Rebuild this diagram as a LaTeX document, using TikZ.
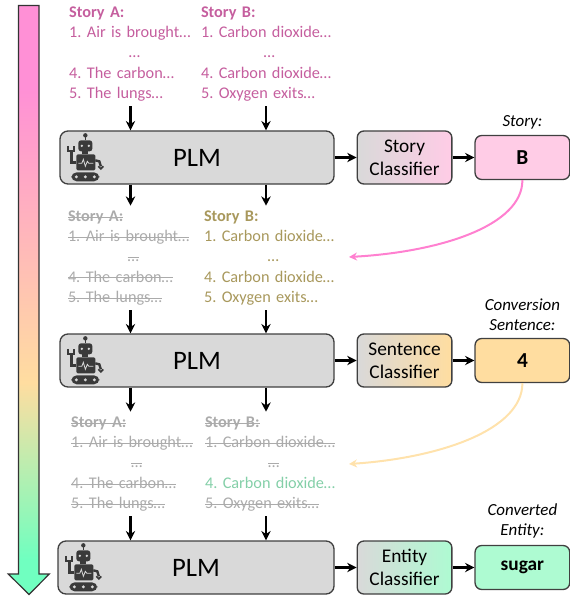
\documentclass[tikz,border=0pt]{standalone}
\usepackage{fontspec}
\setmainfont{Carlito}
\frenchspacing
\usetikzlibrary{shapes,arrows.meta,positioning,fit}
\definecolor{plmgray}{HTML}{D9D9D9}
\definecolor{storypink}{HTML}{FFCCE6}
\definecolor{linepink}{HTML}{FF80D0}
\definecolor{sentorange}{HTML}{FFDDA0}
\definecolor{lineorange}{HTML}{FFE2AC}
\definecolor{entgreen}{HTML}{AEFBD2}
\definecolor{textpink}{HTML}{C55E9E}
\definecolor{textolive}{HTML}{A8985C}
\definecolor{textgreen}{HTML}{84CFA8}
\definecolor{textgray}{HTML}{ABABAB}
\definecolor{botdark}{HTML}{3A3A3A}
\definecolor{flowtop}{HTML}{FF90D6}
\definecolor{flowbot}{HTML}{70FFC0}
\pgfdeclareverticalshading{timeflow}{100bp}{color(0bp)=(flowbot); color(28bp)=(flowbot); color(43bp)=(sentorange); color(68bp)=(flowtop); color(100bp)=(flowtop)}
\tikzstyle{plm} = [draw=black!75,line width=1pt,rectangle,rounded corners=6pt,fill=plmgray,minimum width=205.5pt,minimum height=39.75pt,font=\fontsize{20}{20}\selectfont]
\tikzstyle{classifier} = [draw=black!75,line width=1pt,rectangle,rounded corners=5pt,minimum width=71pt,minimum height=39.75pt,inner sep=0pt,align=center,font=\fontsize{14.5}{17}\selectfont,left color=plmgray]
\tikzstyle{result} = [draw=black!75,line width=1pt,rectangle,rounded corners=5pt,minimum width=71pt,minimum height=33pt,inner sep=0pt,font=\fontsize{16}{16}\selectfont\bfseries]
\tikzstyle{story} = [inner sep=0pt,minimum height=78pt,align=left,font=\fontsize{12.2}{15.2}\selectfont]
\tikzstyle{heading} = [align=center,inner sep=0pt,font=\fontsize{12.7}{15}\selectfont\itshape]
\tikzstyle{flow} = [-{Stealth[length=7pt,width=7pt]},line width=1.7pt]
\tikzstyle{back} = [-{Stealth[length=6pt,width=6pt]},line width=1.5pt]
\def \gap {16.4pt}
\def \lineAa {1. Air is brought…}
\def \lineAd {4. The carbon…}
\def \lineAe {5. The lungs…}
\def \lineBa {1. Carbon dioxide…}
\def \lineBd {4. Carbon dioxide…}
\def \lineBe {5. Oxygen exits…}
\newsavebox\gonebox
\newcommand{\keep}[1]{\mbox{#1}}
\newcommand{\gone}[1]{\sbox\gonebox{#1}\mbox{\usebox\gonebox\llap{\rule[.24em]{\wd\gonebox}{.6pt}}}}
\tikzset{robot/.pic={
  \begin{scope}[botdark]
    \fill (26,-5) circle (2.2);
    \draw[line width=1pt] (26,-5) -- (26,-10);
    \fill[rounded corners=2pt] (19,-10) rectangle (33,-21);
    \fill[plmgray] (22.5,-15.5) circle (1.3) (29.5,-15.5) circle (1.3);
    \fill (23,-21) rectangle (29,-24);
    \fill[rounded corners=1pt] (17,-24) rectangle (36,-40);
    \draw[plmgray,line width=.6pt] (19,-33) -- (22.5,-33) -- (24,-29) -- (26,-36) -- (28,-31) -- (29.5,-33) -- (34,-33);
    \draw[line width=1.8pt] (17,-32) -- (12,-32) -- (12,-21);
    \draw[line width=1.3pt] (8.5,-15.5) -- (8.5,-20.5) -- (15,-20.5) -- (15,-15.5);
    \draw[line width=1.8pt] (36,-30) -- (40,-31) -- (41.5,-36);
    \draw[line width=1.3pt] (39,-36) -- (41.5,-38.5) -- (44,-36);
    \fill[rounded corners=4pt] (12,-42) rectangle (40,-51);
    \fill[plmgray] (17,-46.5) circle (1.6) (26,-46.5) circle (1.6) (35,-46.5) circle (1.6);
  \end{scope}
}}
\begin{document}
\begin{tikzpicture}[x=.75pt,y=.75pt]
  \useasboundingbox (0,0) rectangle (570,-599);
  % time arrow
  \shadedraw[shading=timeflow,draw=black!80,line width=.9pt]
    (18.5,-5.5) -- (39,-5.5) -- (39,-574) -- (49.3,-574) -- (29,-594.5) -- (8.3,-574) -- (18.5,-574) -- cycle;
  % first row
  \node[story,text=textpink,text width=92pt] (textA1) at (130.5,-54) {\keep{\textbf{Story A:}}\\\keep{\lineAa}\\\hspace*{44.8pt}…\\\keep{\lineAd}\\\keep{\lineAe}};
  \node[story,text=textpink,text width=97.5pt] (textB1) at (266,-54) {\keep{\textbf{Story B:}}\\\keep{\lineBa}\\\hspace*{47pt}…\\\keep{\lineBd}\\\keep{\lineBe}};
  \node[plm] (plm1) at (197,-157.5) {PLM};
  \node[classifier,right=\gap of plm1,right color=storypink] (clf1) {Story\\Classifier};
  \node[result,right=\gap of clf1,fill=storypink] (res1) {B};
  \node[heading,above=4pt of res1] (cap1) {Story:};
  \pic at (plm1.north west) {robot};
  \draw[flow] (textA1.south) -- (textA1.south |- plm1.north);
  \draw[flow] (textB1.south) -- (textB1.south |- plm1.north);
  \draw[flow] (plm1) -- (clf1);
  \draw[flow] (clf1) -- (res1);
  % second row
  \node[story,text=textgray,text width=93.75pt] (textA2) at (130.5,-258) {\gone{\textbf{Story A:}}\\\gone{\lineAa}\\\hspace*{44.8pt}\gone{…}\\\gone{\lineAd}\\\gone{\lineAe}};
  \node[story,text=textolive,text width=93pt] (textB2) at (266,-258) {\keep{\textbf{Story B:}}\\\keep{\lineBa}\\\hspace*{47.8pt}…\\\keep{\lineBd}\\\keep{\lineBe}};
  \node[plm] (plm2) at (197,-360.5) {PLM};
  \node[classifier,right=\gap of plm2,right color=sentorange] (clf2) {Sentence\\Classifier};
  \node[result,right=\gap of clf2,fill=sentorange] (res2) {4};
  \node[heading,above=5pt of res2] (cap2) {Conversion\\Sentence:};
  \pic at (plm2.north west) {robot};
  \draw[flow] (textA1.south |- plm1.south) -- (textA2.north);
  \draw[flow] (textB1.south |- plm1.south) -- (textB2.north);
  \draw[flow] (textA2.south) -- (textA2.south |- plm2.north);
  \draw[flow] (textB2.south) -- (textB2.south |- plm2.north);
  \draw[flow] (plm2) -- (clf2);
  \draw[flow] (clf2) -- (res2);
  \coordinate (backB) at (349,-257);
  \draw[back,linepink] (res1.south) .. controls +(0,-46) and +(90,5) .. (backB);
  % third row
  \node[story,text=textgray,text width=89pt] (textA3) at (130.5,-464) {\gone{\textbf{Story A:}}\\\gone{\lineAa}\\\hspace*{45pt}\gone{…}\\\gone{\lineAd}\\\gone{\lineAe}};
  \node[story,text=textgray,text width=91.5pt] (textB3) at (266,-464) {\gone{\textbf{Story B:}}\\\gone{\lineBa}\\\hspace*{47.3pt}\gone{…}\\\textcolor{textgreen}{\keep{\lineBd}}\\\gone{\lineBe}};
  \node[plm,minimum width=207pt] (plm3) at (196,-567.5) {PLM};
  \node[classifier,right=\gap of plm3,right color=entgreen] (clf3) {Entity\\Classifier};
  \node[result,right=\gap of clf3,fill=entgreen,font=\fontsize{14.5}{16}\selectfont\bfseries] (res3) {sugar};
  \node[heading,above=5pt of res3] (cap3) {Converted\\Entity:};
  \pic at (plm3.north west) {robot};
  \draw[flow] (textA2.south |- plm2.south) -- (textA3.north);
  \draw[flow] (textB2.south |- plm2.south) -- (textB3.north);
  \draw[flow] (textA3.south) -- (textA3.south |- plm3.north);
  \draw[flow] (textB3.south) -- (textB3.south |- plm3.north);
  \draw[flow] (plm3) -- (clf3);
  \draw[flow] (clf3) -- (res3);
  \coordinate (backF) at (349,-464);
  \draw[back,lineorange] (res2.south) .. controls +(0,-47) and +(90,6) .. (backF);
\end{tikzpicture}
\end{document}
